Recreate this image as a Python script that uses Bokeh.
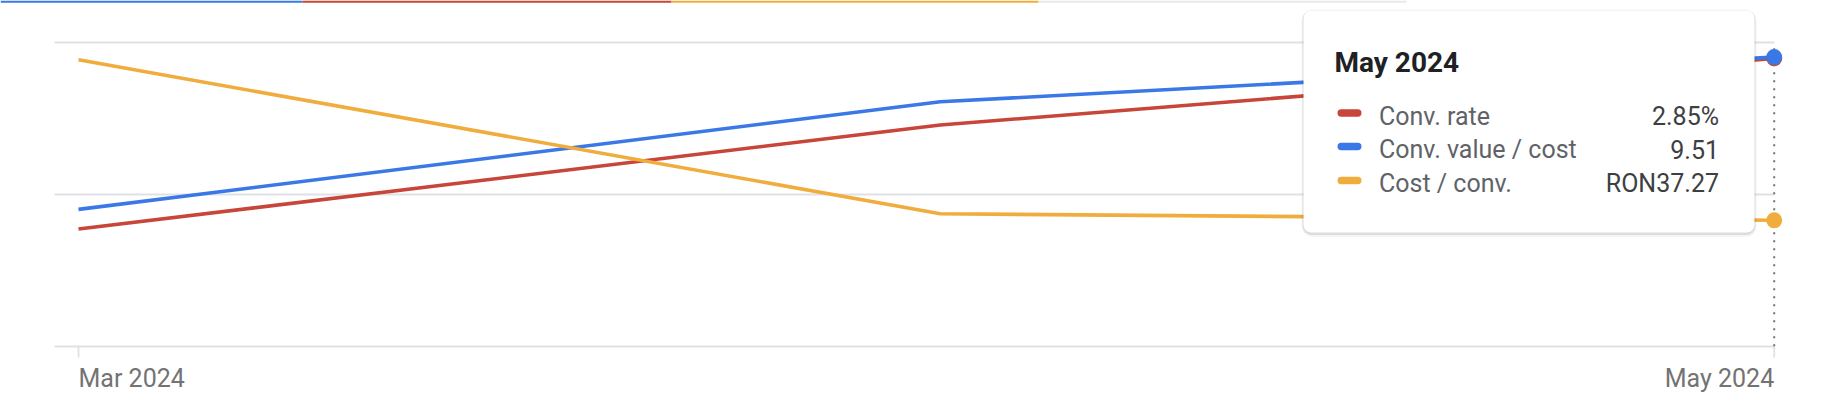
import pandas as pd
from bokeh.plotting import figure
from bokeh.models import Range1d, FixedTicker, Label, BoxAnnotation
from bokeh.embed import file_html
from bokeh.resources import INLINE

# ---------------- data ----------------
months = ["2024-03-01", "2024-04-01", "2024-05-01"]
conv_rate = [1.16, 2.19, 2.85]            # %
conv_value_per_cost = [4.50, 8.04, 9.51]
cost_per_conv = [84.8, 39.2, 37.27]       # RON
series_names = ["Conv. rate", "Conv. value / cost", "Cost / conv."]
tick_labels = ["Mar 2024", "May 2024"]
tooltip_title = "May 2024"
axis_max_rate = 3.01
axis_max_value = 10.0
axis_max_cost = 90.0

# ---------------- style / layout ----------------
RED = "#c8453a"
BLUE = "#3b78e7"
YELLOW = "#f0ac3c"
GRID = "#dfe1e4"
FONT = "Roboto"

W, H = 1808, 396
Y_ZERO, Y_TOP = 345.7, 41.7        # canvas rows of the 0 and max gridlines
X_FIRST, X_LAST = 78.0, 1773.7     # canvas columns of first / last month
GRID_LEFT = 54.0

ms = [pd.Timestamp(m).value / 1e6 for m in months]
px_per_ms = (X_LAST - X_FIRST) / (ms[-1] - ms[0])
x_start = ms[0] - X_FIRST / px_per_ms
x_end = x_start + W / px_per_ms
span_px = Y_ZERO - Y_TOP


def yr(mx):
    per_px = mx / span_px
    return Range1d(start=-(H - Y_ZERO) * per_px, end=mx + Y_TOP * per_px)


p = figure(width=W, height=H, x_axis_type="datetime", output_backend="svg",
           toolbar_location=None, min_border=0,
           x_range=Range1d(x_start, x_end), y_range=yr(axis_max_value))
p.extra_y_ranges = {"rate": yr(axis_max_rate), "cost": yr(axis_max_cost)}
p.outline_line_color = None
p.background_fill_color = "white"
p.border_fill_color = "white"
p.xaxis.visible = False
p.yaxis.visible = False
p.xgrid.visible = False
p.ygrid.ticker = FixedTicker(ticks=[0, axis_max_value / 2, axis_max_value])
p.ygrid.grid_line_color = GRID
p.ygrid.grid_line_width = 1.8
p.ygrid.cross_bounds = (x_start + GRID_LEFT / px_per_ms, ms[-1])

# x ticks below the zero line (first and last month)
tick_len = 11.3 * axis_max_value / span_px
tick_x = [ms[0], ms[-1]]
p.segment(x0=tick_x, y0=[0, 0], x1=tick_x, y1=[-tick_len, -tick_len],
          line_color=GRID, line_width=1.8)

# hover crosshair (dotted) at last month
p.segment(x0=[ms[-1]], y0=[0], x1=[ms[-1]], y1=[axis_max_value],
          line_color="#6f7378", line_width=2, line_dash="2 6")

# series
p.line(ms, conv_rate, y_range_name="rate", line_color=RED, line_width=3.6)
p.line(ms, conv_value_per_cost, line_color=BLUE, line_width=3.6)
p.line(ms, cost_per_conv, y_range_name="cost", line_color=YELLOW, line_width=3.6)
p.scatter([ms[-1]], [conv_rate[-1]], y_range_name="rate", size=16,
          fill_color=RED, line_color=None)
p.scatter([ms[-1]], [conv_value_per_cost[-1]], size=16,
          fill_color=BLUE, line_color=None)
p.scatter([ms[-1]], [cost_per_conv[-1]], y_range_name="cost", size=16,
          fill_color=YELLOW, line_color=None)

# x tick labels (y values compensate for Bokeh's text box descent)
for xv, txt, al in [(ms[0], tick_labels[0], "left"), (ms[-1], tick_labels[1], "right")]:
    p.add_layout(Label(x=xv, y=386 - 8.5, x_units="data", y_units="canvas", text=txt,
                       text_align=al, text_baseline="alphabetic",
                       text_font=FONT, text_font_size="25px", text_color="#737373"))


def cbox(l, r, t, b, **kw):
    return BoxAnnotation(left=l, right=r, top=t, bottom=b,
                         left_units="canvas", right_units="canvas",
                         top_units="canvas", bottom_units="canvas",
                         line_color=None, level="overlay", **kw)


# top tab underline bar
for l, r, c in [(0, 302, BLUE), (302, 671, RED), (671, 1038, YELLOW), (1038, 1406, "#e8e9ed")]:
    p.add_layout(cbox(l, r, 0, 2.2, fill_color=c, fill_alpha=1))

# tooltip
TL, TR, TT, TB = 1303, 1754, 10, 232
p.add_layout(cbox(TL - 2, TR + 2, TT - 1, TB + 4.5, fill_color="black",
                  fill_alpha=0.04, border_radius=11))
p.add_layout(cbox(TL - 1, TR + 1, TT, TB + 2.5, fill_color="black",
                  fill_alpha=0.10, border_radius=9))
p.add_layout(cbox(TL, TR, TT, TB, fill_color="white", fill_alpha=1, border_radius=8))

p.add_layout(Label(x=1334, y=71.7 - 9.5, x_units="canvas", y_units="canvas",
                   text=tooltip_title, text_align="left", text_baseline="alphabetic",
                   text_font=FONT, text_font_size="28px", text_font_style="bold",
                   text_color="#202124", level="overlay"))

values_txt = [f"{conv_rate[-1]:.2f}%", f"{conv_value_per_cost[-1]:.2f}",
              f"RON{cost_per_conv[-1]:.2f}"]
colors = [RED, BLUE, YELLOW]
baselines = [124.0, 157.5, 191.5]
for name, val, col, bl in zip(series_names, values_txt, colors, baselines):
    cy = bl - 11.5
    p.add_layout(cbox(1337, 1361, cy - 3.7, cy + 3.7, fill_color=col,
                      fill_alpha=1, border_radius=4))
    p.add_layout(Label(x=1378.5, y=bl - 8.2, x_units="canvas", y_units="canvas",
                       text=name, text_align="left", text_baseline="alphabetic",
                       text_font=FONT, text_font_size="25px", text_color="#5f6368",
                       level="overlay"))
    p.add_layout(Label(x=1718.5, y=bl - 8.2, x_units="canvas", y_units="canvas",
                       text=val, text_align="right", text_baseline="alphabetic",
                       text_font=FONT, text_font_size="25px", text_color="#3c4043",
                       level="overlay"))

open("out.html", "w").write(file_html(p, INLINE))
